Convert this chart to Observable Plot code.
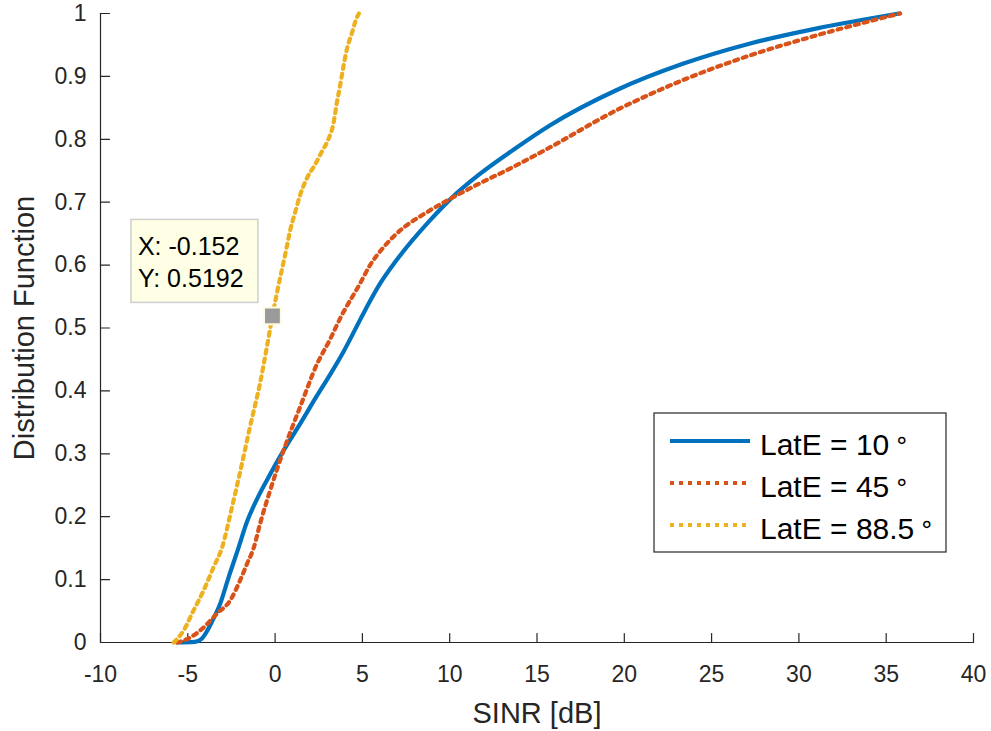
<!DOCTYPE html>
<html><head><meta charset="utf-8">
<script src="https://cdn.jsdelivr.net/npm/d3@7"></script>
<script src="https://cdn.jsdelivr.net/npm/@observablehq/plot@0.6"></script>
<style>body{margin:0;background:#fff}</style>
</head><body><div id="chart"></div>
<script>
// ---- data ----
const xTicks = [-10, -5, 0, 5, 10, 15, 20, 25, 30, 35, 40];
const yTicks = [0, 0.1, 0.2, 0.3, 0.4, 0.5, 0.6, 0.7, 0.8, 0.9, 1];
const xLabel = "SINR [dB]";
const yLabel = "Distribution Function";
const seriesNames = ["LatE = 10", "LatE = 45", "LatE = 88.5"];
const seriesColors = ["#0072BD", "#D95319", "#EDB120"];

const lat10X = [-5.6, -4.6, -4.2, -3.9, -3.6, -3.14, -2.66, -2.15, -1.61, -1.0, -0.47, 0.48, 1.44, 2.39, 3.15, 3.91, 5.15, 6.0, 6.96, 8.87, 10.39, 11.73, 13.63, 15.73, 19.54, 23.35, 27.16, 30.98, 35.74];
const lat10Y = [0, 0.001, 0.006, 0.018, 0.034, 0.062, 0.104, 0.146, 0.192, 0.230, 0.258, 0.305, 0.348, 0.392, 0.426, 0.462, 0.528, 0.570, 0.608, 0.671, 0.714, 0.745, 0.783, 0.822, 0.878, 0.920, 0.952, 0.976, 1.0];

const lat45X = [-5.62, -4.85, -4.09, -3.33, -2.57, -2.0, -1.61, -1.23, -0.85, -0.28, 0.48, 1.44, 2.39, 3.15, 3.72, 4.87, 5.44, 6.2, 6.96, 8.87, 10.2, 11.73, 13.63, 15.6, 19.54, 23.35, 27.16, 30.98, 35.8];
const lat45Y = [0, 0.008, 0.024, 0.046, 0.067, 0.099, 0.125, 0.150, 0.190, 0.242, 0.305, 0.375, 0.442, 0.482, 0.515, 0.571, 0.600, 0.628, 0.650, 0.687, 0.708, 0.730, 0.756, 0.785, 0.846, 0.894, 0.933, 0.965, 1.0];

const lat885X = [-5.81, -5.24, -4.67, -4.09, -3.52, -3.05, -2.47, -1.90, -1.42, -0.85, -0.47, -0.152, 0.10, 0.67, 0.86, 1.15, 1.44, 1.82, 2.29, 2.67, 3.05, 3.34, 3.53, 3.72, 3.91, 4.10, 4.39, 4.67, 4.8];
const lat885Y = [0, 0.019, 0.051, 0.083, 0.12, 0.150, 0.215, 0.284, 0.345, 0.414, 0.470, 0.5192, 0.555, 0.629, 0.655, 0.684, 0.712, 0.738, 0.760, 0.780, 0.800, 0.825, 0.857, 0.885, 0.915, 0.942, 0.968, 0.993, 1.0];

const tipX = -0.152;
const tipY = 0.5192;
const tipLines = ["X: -0.152", "Y: 0.5192"];

// ---- build ----
const seriesX = [lat10X, lat45X, lat885X];
const seriesY = [lat10Y, lat45Y, lat885Y];
const dashes = [null, "4,5", "4,5"];
const rows = seriesX.map((xs, s) => xs.map((x, i) => ({series: seriesNames[s], x, y: seriesY[s][i]})));

const ink = "#262626";
const font = "'Liberation Sans', Arial, sans-serif";
const tickUp = {draw(ctx, l) { ctx.moveTo(0, 0); ctx.lineTo(0, -l); }};

const chart = Plot.plot({
  width: 991, height: 731,
  marginLeft: 100, marginRight: 18, marginTop: 13, marginBottom: 89,
  x: {domain: [-10, 40]},
  y: {domain: [0, 1]},
  style: {fontFamily: font, color: ink, background: "#fff"},
  marks: [
    Plot.axisX(xTicks, {tickSize: 0, tickPadding: 23, fontSize: 23, tickFormat: d => String(d), label: null, fill: ink}),
    Plot.axisY(yTicks, {tickSize: 0, tickPadding: 14, fontSize: 23, tickFormat: d => String(d), label: null, fill: ink}),
    Plot.ruleY([0], {stroke: ink, strokeWidth: 1.2}),
    Plot.ruleX([-10], {stroke: ink, strokeWidth: 1.2}),
    Plot.vector(xTicks, {x: d => d, y: 0, length: 9, rotate: 0, anchor: "start", shape: tickUp, stroke: ink, strokeWidth: 1.2}),
    Plot.vector(yTicks, {x: -10, y: d => d, length: 9, rotate: 90, anchor: "start", shape: tickUp, stroke: ink, strokeWidth: 1.2}),
    Plot.text([xLabel], {text: d => d, frameAnchor: "bottom", dy: 80, lineAnchor: "bottom", textAnchor: "middle", fontSize: 29, fill: ink}),
    Plot.text([yLabel], {text: d => d, frameAnchor: "left", dx: -67, rotate: -90, lineAnchor: "bottom", textAnchor: "middle", fontSize: 29, fill: ink}),
    ...rows.map((r, s) => Plot.line(r, {x: "x", y: "y", stroke: seriesColors[s], strokeWidth: 4.2, strokeDasharray: dashes[s], curve: "monotone-x"})),
    Plot.dot([{x: tipX, y: tipY}], {x: "x", y: "y", symbol: "square", r: 9.5, fill: "#9a9a9a", stroke: "#fffbe0", strokeWidth: 2})
  ]
});
document.getElementById("chart").appendChild(chart);

// ---- datatip box anchored at the data point via the scales ----
const sx = chart.scale("x"), sy = chart.scale("y");
const px = sx.apply(tipX), py = sy.apply(tipY);
const svg = d3.select(chart);
const tg = svg.append("g").attr("font-family", font).attr("text-anchor", "start");
const bw = 127, bh = 83;
const bx = px - 14 - bw, by = py - 13 - bh;
tg.append("rect").attr("x", bx).attr("y", by).attr("width", bw).attr("height", bh)
  .attr("fill", "#ffffe5").attr("stroke", "#cfcfcf").attr("stroke-width", 1.5);
tipLines.forEach((t, i) => tg.append("text").attr("x", bx + 7).attr("y", by + 36 + i * 32)
  .attr("font-size", 25).attr("fill", "#000").text(t));

// ---- legend ----
const lx = 654, ly = 413, lw = 292, lh = 139;
const lg = svg.append("g").attr("font-family", font).attr("text-anchor", "start");
lg.append("rect").attr("x", lx).attr("y", ly).attr("width", lw).attr("height", lh)
  .attr("fill", "#fff").attr("stroke", ink).attr("stroke-width", 1.2);
seriesNames.forEach((name, i) => {
  const base = ly + 42 + i * 42;
  lg.append("line").attr("x1", lx + 16).attr("x2", lx + 96).attr("y1", base - 14).attr("y2", base - 14)
    .attr("stroke", seriesColors[i]).attr("stroke-width", 4.2).attr("stroke-dasharray", dashes[i]);
  const t = lg.append("text").attr("x", lx + 106).attr("y", base).attr("font-size", 30).attr("fill", "#000");
  t.append("tspan").text(name);
  t.append("tspan").attr("font-family", "'DejaVu Sans'").attr("font-size", 24).attr("dx", 5).attr("dy", -7).text("∘");
});
</script></body></html>
